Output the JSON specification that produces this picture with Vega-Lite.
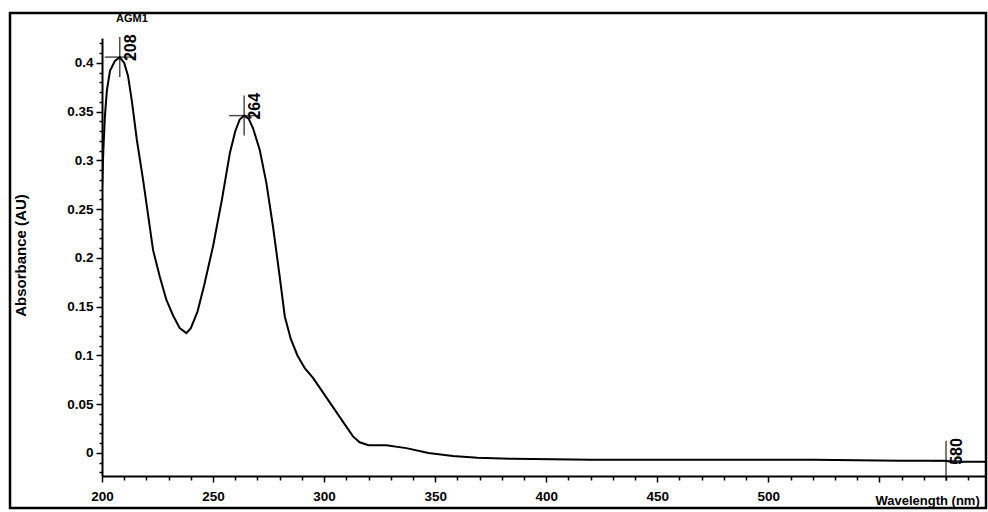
{
  "$schema": "https://vega.github.io/schema/vega-lite/v6.json",
  "width": 884,
  "height": 438,
  "autosize": "none",
  "padding": {"left": 102, "top": 38, "right": 2, "bottom": 36},
  "background": "white",
  "title": {
    "text": "AGM1",
    "anchor": "start",
    "frame": "group",
    "dx": 14,
    "offset": -12,
    "font": "Liberation Sans",
    "fontSize": 11,
    "fontWeight": "bold",
    "color": "black"
  },
  "config": {
    "view": {"stroke": null},
    "axis": {
      "domainColor": "black",
      "domainWidth": 2,
      "tickColor": "black",
      "tickWidth": 1.5,
      "labelColor": "black",
      "labelFont": "Liberation Sans",
      "labelFontWeight": "bold",
      "labelFontSize": 13.5,
      "titleColor": "black",
      "titleFont": "Liberation Sans",
      "titleFontWeight": "bold",
      "titleFontSize": 12,
      "grid": false
    }
  },
  "datasets": {
    "spectrum": [
      {"wl": 200, "abs": 0.27},
      {"wl": 200.6, "abs": 0.31},
      {"wl": 201.3, "abs": 0.345},
      {"wl": 202.2, "abs": 0.372},
      {"wl": 203.6, "abs": 0.392},
      {"wl": 205.8, "abs": 0.402},
      {"wl": 208, "abs": 0.406},
      {"wl": 210, "abs": 0.4},
      {"wl": 211.7, "abs": 0.387},
      {"wl": 213.5, "abs": 0.36},
      {"wl": 215.7, "abs": 0.321},
      {"wl": 218.5, "abs": 0.28},
      {"wl": 221, "abs": 0.24},
      {"wl": 223, "abs": 0.208},
      {"wl": 226, "abs": 0.181},
      {"wl": 229, "abs": 0.157},
      {"wl": 232, "abs": 0.141},
      {"wl": 235, "abs": 0.128},
      {"wl": 238, "abs": 0.123},
      {"wl": 240, "abs": 0.128},
      {"wl": 243, "abs": 0.145},
      {"wl": 246, "abs": 0.172},
      {"wl": 248, "abs": 0.192},
      {"wl": 250, "abs": 0.212},
      {"wl": 254, "abs": 0.26},
      {"wl": 257.6, "abs": 0.308},
      {"wl": 260, "abs": 0.33},
      {"wl": 262, "abs": 0.342},
      {"wl": 264, "abs": 0.346},
      {"wl": 266, "abs": 0.343},
      {"wl": 268, "abs": 0.333},
      {"wl": 271, "abs": 0.311},
      {"wl": 274, "abs": 0.277},
      {"wl": 277, "abs": 0.232},
      {"wl": 280, "abs": 0.181},
      {"wl": 282.3, "abs": 0.14},
      {"wl": 285, "abs": 0.117},
      {"wl": 288, "abs": 0.1},
      {"wl": 291.3, "abs": 0.087},
      {"wl": 295, "abs": 0.077},
      {"wl": 298, "abs": 0.067},
      {"wl": 301, "abs": 0.057},
      {"wl": 304, "abs": 0.047},
      {"wl": 307, "abs": 0.037},
      {"wl": 310, "abs": 0.027},
      {"wl": 313, "abs": 0.017},
      {"wl": 316, "abs": 0.011},
      {"wl": 320, "abs": 0.008},
      {"wl": 328, "abs": 0.008},
      {"wl": 337, "abs": 0.005},
      {"wl": 347, "abs": 0.0},
      {"wl": 358, "abs": -0.003},
      {"wl": 369, "abs": -0.005},
      {"wl": 385, "abs": -0.006},
      {"wl": 420, "abs": -0.007},
      {"wl": 470, "abs": -0.007},
      {"wl": 520, "abs": -0.007},
      {"wl": 560, "abs": -0.008},
      {"wl": 576, "abs": -0.008},
      {"wl": 580, "abs": -0.008},
      {"wl": 584, "abs": -0.01},
      {"wl": 588, "abs": -0.009},
      {"wl": 598, "abs": -0.009}
    ],
    "peaks": [
      {"wl": 208, "abs": 0.406, "label": "208"},
      {"wl": 264, "abs": 0.346, "label": "264"},
      {"wl": 580, "abs": -0.008, "label": "580"}
    ],
    "frame": [
      {"x0": 158.58, "x1": 598, "y0": -0.0564, "y1": 0.4512}
    ]
  },
  "layer": [
    {
      "data": {"name": "spectrum"},
      "mark": {"type": "line", "color": "black", "strokeWidth": 2, "clip": true},
      "encoding": {
        "x": {
          "field": "wl",
          "type": "quantitative",
          "scale": {"domain": [200, 598], "nice": false, "zero": false},
          "axis": {
            "orient": "bottom",
            "values": [200, 250, 300, 350, 400, 450, 500, 550],
            "labelExpr": "datum.value == 550 ? '' : datum.label",
            "tickSize": 6,
            "labelPadding": 7,
            "labelFlush": false,
            "labelOverlap": false,
            "title": "Wavelength (nm)",
            "titleAlign": "left",
            "titleAnchor": null,
            "titleX": 773,
            "titleY": 24,
            "titleBaseline": "middle",
            "titleFontSize": 13
          }
        },
        "y": {
          "field": "abs",
          "type": "quantitative",
          "scale": {"domain": [-0.0236, 0.4256], "nice": false, "zero": false},
          "axis": {
            "orient": "left",
            "values": [0, 0.05, 0.1, 0.15, 0.2, 0.25, 0.3, 0.35, 0.4],
            "format": ".2~f",
            "tickSize": 6,
            "labelPadding": 3,
            "labelFlush": false,
            "labelOverlap": false,
            "title": "Absorbance (AU)",
            "titleAngle": -90,
            "titleAnchor": null,
            "titleAlign": "center",
            "titleBaseline": "middle",
            "titleX": -82,
            "titleY": 217,
            "titleFontSize": 15
          }
        }
      }
    },
    {
      "data": {"name": "peaks"},
      "mark": {"type": "tick", "orient": "horizontal", "color": "black", "size": 30, "thickness": 1.5},
      "encoding": {
        "x": {
          "field": "wl",
          "type": "quantitative",
          "axis": {
            "orient": "bottom",
            "values": [210, 220, 230, 240, 260, 270, 280, 290, 310, 320, 330, 340, 360, 370, 380, 390, 410, 420, 430, 440, 460, 470, 480, 490, 510, 520, 530, 540, 560, 570, 580, 590],
            "labels": false,
            "domain": false,
            "tickSize": 4,
            "title": null
          }
        },
        "y": {
          "field": "abs",
          "type": "quantitative",
          "axis": {
            "orient": "left",
            "values": [-0.02, -0.01, 0.01, 0.02, 0.03, 0.04, 0.06, 0.07, 0.08, 0.09, 0.11, 0.12, 0.13, 0.14, 0.16, 0.17, 0.18, 0.19, 0.21, 0.22, 0.23, 0.24, 0.26, 0.27, 0.28, 0.29, 0.31, 0.32, 0.33, 0.34, 0.36, 0.37, 0.38, 0.39, 0.41, 0.42],
            "labels": false,
            "domain": false,
            "tickSize": 3,
            "title": null
          }
        }
      }
    },
    {
      "data": {"name": "peaks"},
      "mark": {"type": "tick", "orient": "vertical", "color": "black", "size": 40, "thickness": 1.5},
      "encoding": {
        "x": {"field": "wl", "type": "quantitative", "axis": null},
        "y": {"field": "abs", "type": "quantitative", "axis": null}
      }
    },
    {
      "data": {"name": "peaks"},
      "mark": {
        "type": "text",
        "angle": 270,
        "align": "left",
        "baseline": "top",
        "dx": -4,
        "dy": 3,
        "font": "Liberation Sans",
        "fontSize": 16,
        "fontWeight": "bold",
        "color": "black"
      },
      "encoding": {
        "x": {"field": "wl", "type": "quantitative", "axis": null},
        "y": {"field": "abs", "type": "quantitative", "axis": null},
        "text": {"field": "label"}
      }
    },
    {
      "data": {"name": "frame"},
      "mark": {"type": "rect", "filled": false, "stroke": "black", "strokeWidth": 2.5, "clip": false},
      "encoding": {
        "x": {"field": "x0", "type": "quantitative", "axis": null},
        "x2": {"field": "x1"},
        "y": {"field": "y0", "type": "quantitative", "axis": null},
        "y2": {"field": "y1"}
      }
    }
  ],
  "resolve": {"axis": {"x": "independent", "y": "independent"}}
}
